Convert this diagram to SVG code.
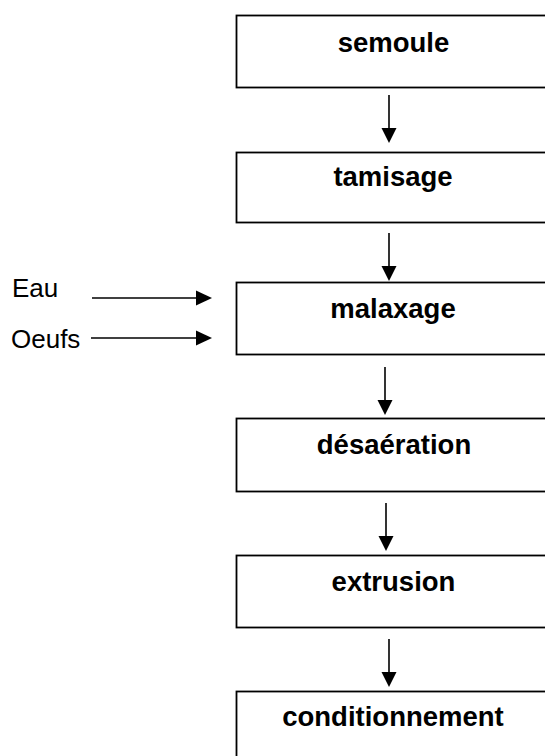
<svg xmlns="http://www.w3.org/2000/svg" width="545" height="756" viewBox="0 0 545 756">
<style>
.box{fill:#fff;stroke:#000;stroke-width:1.8}
.lbl{font-family:"Liberation Sans",Arial,sans-serif;font-weight:bold;font-size:27.5px;text-anchor:middle;fill:#000}
.in{font-family:"Liberation Sans",Arial,sans-serif;font-size:26px;fill:#000}
.ln{stroke:#000;stroke-width:1.6;fill:none}
.hd{fill:#000}
</style>
<rect width="545" height="756" fill="#fff"/>
<g id="connectors">
<line class="ln" x1="389" y1="95" x2="389" y2="130"/><polygon class="hd" points="381.5,128 396.5,128 389,143"/>
<line class="ln" x1="389" y1="233" x2="389" y2="268"/><polygon class="hd" points="381.5,266 396.5,266 389,281"/>
<line class="ln" x1="385" y1="367" x2="385" y2="402"/><polygon class="hd" points="377.5,400 392.5,400 385,415"/>
<line class="ln" x1="386" y1="503" x2="386" y2="538"/><polygon class="hd" points="378.5,536 393.5,536 386,551"/>
<line class="ln" x1="389" y1="639" x2="389" y2="674"/><polygon class="hd" points="381.5,672 396.5,672 389,687"/>
<line class="ln" x1="92" y1="298" x2="198" y2="298"/><polygon class="hd" points="196,290.5 196,305.5 212,298"/>
<line class="ln" x1="91" y1="338" x2="198" y2="338"/><polygon class="hd" points="196,330.5 196,345.5 212,338"/>
</g>
<g id="n-semoule"><rect class="box" x="236.5" y="15.5" width="320" height="72"/><text class="lbl" x="393.5" y="52">semoule</text></g>
<g id="n-tamisage"><rect class="box" x="236.5" y="152.5" width="320" height="70"/><text class="lbl" x="393" y="186">tamisage</text></g>
<g id="n-malaxage"><rect class="box" x="236.5" y="282.5" width="320" height="72"/><text class="lbl" x="393" y="318">malaxage</text></g>
<g id="n-desaeration"><rect class="box" x="236.5" y="418.5" width="320" height="73"/><text class="lbl" x="394" y="454">désaération</text></g>
<g id="n-extrusion"><rect class="box" x="236.5" y="555.5" width="320" height="72"/><text class="lbl" x="393.5" y="591">extrusion</text></g>
<g id="n-conditionnement"><rect class="box" x="236.5" y="691.5" width="320" height="80"/><text class="lbl" x="393" y="726">conditionnement</text></g>
<g id="n-eau"><text class="in" x="12" y="297">Eau</text></g>
<g id="n-oeufs"><text class="in" x="11" y="348">Oeufs</text></g>
</svg>
